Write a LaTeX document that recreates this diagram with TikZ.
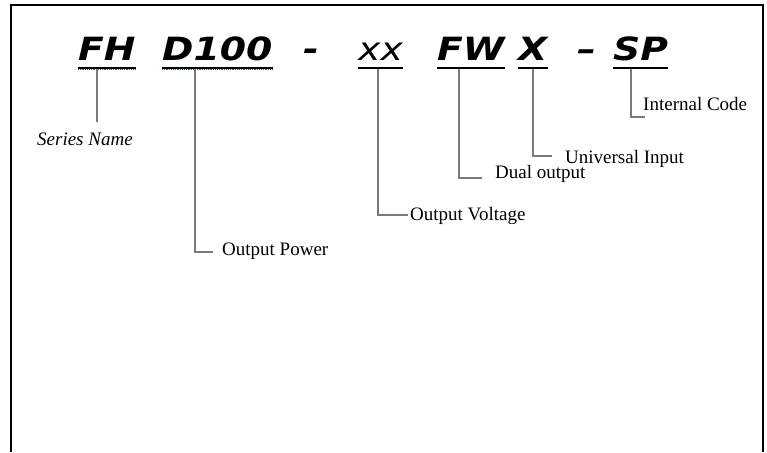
\documentclass[tikz,border=0pt]{standalone}
\usepackage{fontspec}
\setmainfont{Liberation Serif}
\newfontfamily\codefont[FakeStretch=1.18]{DejaVu Sans}
\usepackage{tikz}
\usepackage{xcolor}
\definecolor{leadgray}{HTML}{7A7A7A}
\definecolor{squiggle}{HTML}{2E6B2E}

\begin{document}
\begin{tikzpicture}[x=1pt, y=-1pt,
    code/.style={font=\codefont\bfseries\itshape\fontsize{32}{36}\selectfont, inner sep=0pt, anchor=base west},
    plaincode/.style={code, font=\codefont\itshape\fontsize{32}{36}\selectfont},
    lbl/.style={font=\fontsize{19}{22}\selectfont, inner sep=0pt, anchor=base west},
    uline/.style={line width=2pt},
    leader/.style={draw=leadgray, line width=1.8pt}]

    \useasboundingbox (0,0) rectangle (767,452);

    % Frame (open at the bottom)
    \draw[line width=2.2pt] (11,452) -- (11,5) -- (763,5) -- (763,452);

    % Part number
    \node[code] (fh) at (78,60) {FH};
    \node[code] (dhundred) at (162,60) {D100};
    \node[code] (dasha) at (303,60) {-};
    \node[plaincode] (xx) at (358,60) {xx};
    \node[code] (fw) at (437,60) {FW};
    \node[code] (xsel) at (518,60) {X};
    \node[code] (dashb) at (577,60) {–};
    \node[code] (sp) at (613,60) {SP};

    % Underlines
    \foreach \tok in {fh, dhundred, xx, fw, xsel, sp}
        \draw[uline] ([yshift=-8pt]\tok.base west) -- ([yshift=-8pt]\tok.base east);
    \foreach \tok in {fh, dhundred}
        \draw[squiggle, densely dotted, line width=1.2pt]
            ([yshift=-9.6pt]\tok.base west) -- ([yshift=-9.6pt]\tok.base east);

    % Labels
    \node[lbl, font=\itshape\fontsize{19}{22}\selectfont] (sername) at (37,145) {Series Name};
    \node[lbl] (outpwr) at (222,255) {Output Power};
    \node[lbl] (outvlt) at (410,220) {Output Voltage};
    \node[lbl] (dualout) at (495,178) {Dual output};
    \node[lbl] (univin) at (565,163) {Universal Input};
    \node[lbl] (intcode) at (643,110) {Internal Code};

    % Elbow ends
    \coordinate (serend) at (97,122);
    \coordinate (pwrend) at (213,252);
    \coordinate (vltend) at (408,215);
    \coordinate (dualend) at (482,178);
    \coordinate (univend) at (552,156);
    \coordinate (codeend) at (645,117);

    % Leaders
    \draw[leader] ([xshift=19pt, yshift=-9pt]fh.base west) -- (serend);
    \draw[leader] ([xshift=33pt, yshift=-9pt]dhundred.base west) |- (pwrend);
    \draw[leader] ([xshift=20pt, yshift=-9pt]xx.base west) |- (vltend);
    \draw[leader] ([xshift=22pt, yshift=-9pt]fw.base west) |- (dualend);
    \draw[leader] ([xshift=15pt, yshift=-9pt]xsel.base west) |- (univend);
    \draw[leader] ([xshift=18pt, yshift=-9pt]sp.base west) |- (codeend);

\end{tikzpicture}
\end{document}
